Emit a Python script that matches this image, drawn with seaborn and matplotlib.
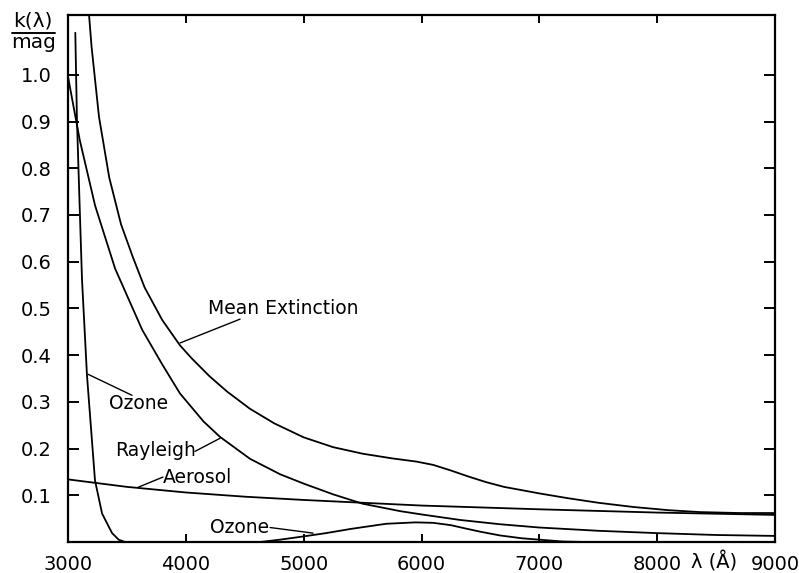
import matplotlib
matplotlib.use("Agg")
import matplotlib.pyplot as plt
import seaborn as sns

# wavelength in Angstrom, extinction k in mag
mean_wl = [3150, 3178, 3200, 3263, 3350, 3450, 3550, 3650, 3800, 3950, 4050, 4200, 4350,
           4545, 4750, 5000, 5250, 5500, 5750, 5960, 6100, 6250, 6400, 6550, 6700, 7000,
           7236, 7500, 7796, 8100, 8365, 8700, 9000]
mean_k = [1.20, 1.13, 1.06, 0.91, 0.78, 0.68, 0.61, 0.545, 0.475, 0.421, 0.393, 0.355, 0.322,
          0.285, 0.254, 0.224, 0.203, 0.189, 0.179, 0.172, 0.165, 0.153, 0.140, 0.128, 0.118, 0.104,
          0.094, 0.084, 0.075, 0.068, 0.064, 0.062, 0.062]

rayleigh_wl = [3000, 3100, 3230, 3400, 3630, 3800, 3950, 4150, 4290, 4545, 4800, 5000, 5250,
               5500, 5820, 6000, 6333, 6667, 7000, 7500, 8000, 8500, 9000]
rayleigh_k = [0.996, 0.86, 0.72, 0.585, 0.454, 0.38, 0.318, 0.258, 0.225, 0.178, 0.145, 0.125, 0.102,
              0.082, 0.066, 0.059, 0.047, 0.038, 0.031, 0.024, 0.019, 0.015, 0.013]

aerosol_wl = [3000, 3500, 4000, 4500, 5000, 5500, 6000, 6500, 7000, 8000, 9000]
aerosol_k = [0.134, 0.118, 0.106, 0.097, 0.090, 0.084, 0.078, 0.074, 0.070, 0.063, 0.058]

ozone_wl = [3062, 3076, 3100, 3119, 3161, 3229, 3289, 3374, 3430, 3484, 4630, 4800, 5000,
            5190, 5400, 5700, 5950, 6100, 6250, 6390, 6500, 6667, 6850, 7000, 7200, 7400, 9000]
ozone_k = [1.09, 0.903, 0.71, 0.561, 0.357, 0.132, 0.061, 0.019, 0.005, 0.0, 0.0, 0.005, 0.012,
           0.019, 0.028, 0.039, 0.042, 0.041, 0.036, 0.028, 0.022, 0.014, 0.008, 0.005, 0.001, 0.0, 0.0]

x_ticks = [3000, 4000, 5000, 6000, 7000, 8000, 9000]
y_ticks = [0.1, 0.2, 0.3, 0.4, 0.5, 0.6, 0.7, 0.8, 0.9, 1.0]

sns.set_style("ticks")
plt.rcParams["font.family"] = ["DejaVu Sans"]
plt.rcParams["text.color"] = "black"

fig = plt.figure(figsize=(7.99, 5.73), dpi=100)
ax = fig.add_axes([68 / 799, 1 - 542 / 573, 707 / 799, 527 / 573])

lw = 1.3
for wl, k in [(mean_wl, mean_k), (rayleigh_wl, rayleigh_k),
              (aerosol_wl, aerosol_k), (ozone_wl, ozone_k)]:
    sns.lineplot(x=wl, y=k, ax=ax, color="black", lw=lw, sort=False,
                 estimator=None, legend=False)

ax.set_xlim(3000, 9000)
ax.set_ylim(0, 1.128)
ax.set_xticks(x_ticks)
ax.set_yticks(y_ticks)
ax.set_xticklabels([str(t) for t in x_ticks])
ax.set_yticklabels([f"{t:.1f}" for t in y_ticks])
ax.tick_params(direction="in", width=1.4, top=True, right=True,
               labelsize=14, colors="black")
ax.tick_params(axis="x", length=6, pad=9)
ax.tick_params(axis="y", length=8, pad=12)
for s in ax.spines.values():
    s.set_linewidth(1.6)
    s.set_color("black")
ax.set_xlabel("")
ax.set_ylabel("")

# curve labels with leader lines
fs = 13.5
ax.text(4190, 0.499, "Mean Extinction", fontsize=fs, va="center", ha="left")
ax.plot([4460, 3951], [0.477, 0.426], color="black", lw=1.0)

ax.text(3348, 0.297, "Ozone", fontsize=fs, va="center", ha="left")
ax.plot([3543, 3170], [0.314, 0.359], color="black", lw=1.0)

ax.text(3399, 0.196, "Rayleigh", fontsize=fs, va="center", ha="left")
ax.plot([4078, 4290], [0.194, 0.222], color="black", lw=1.0)

ax.text(3806, 0.139, "Aerosol", fontsize=fs, va="center", ha="left")
ax.plot([3806, 3594], [0.139, 0.117], color="black", lw=1.0)

ax.text(4205, 0.031, "Ozone", fontsize=fs, va="center", ha="left")
ax.plot([4715, 5080], [0.031, 0.019], color="black", lw=1.0)

# axis labels
fig.text(714 / 799, 1 - 562 / 573, "λ (Å)", fontsize=14, ha="center", va="center")
fig.text(33 / 799, 1 - 21 / 573, "k(λ)", fontsize=14.5, ha="center", va="center")
fig.add_artist(plt.Line2D([12 / 799, 55 / 799], [1 - 33 / 573, 1 - 33 / 573],
                          color="black", lw=1.4))
fig.text(34 / 799, 1 - 43 / 573, "mag", fontsize=14.5, ha="center", va="center")

fig.savefig("out.png", dpi=100)
